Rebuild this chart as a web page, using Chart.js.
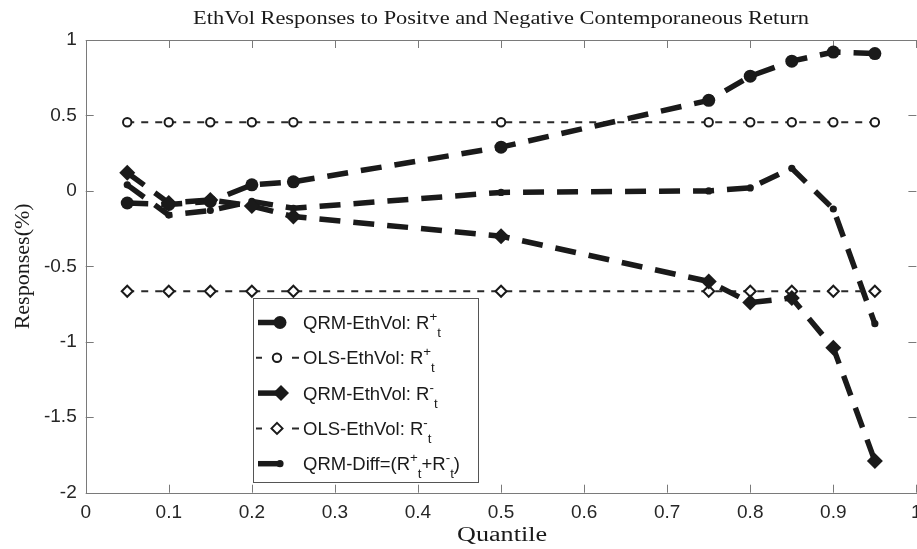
<!DOCTYPE html>
<html>
<head>
<meta charset="utf-8">
<script src="https://cdn.jsdelivr.net/npm/chart.js@4"></script>
<style>
html,body{margin:0;padding:0;background:#fff;}
#c{display:block;}
</style>
</head>
<body>
<canvas id="c" width="917" height="549"></canvas>
<script>
// ---- data ----
const quantiles = [0.05, 0.1, 0.15, 0.2, 0.25, 0.5, 0.75, 0.8, 0.85, 0.9, 0.95];
const qrmPos  = [-0.08, -0.09, -0.07, 0.04, 0.06, 0.29, 0.60, 0.76, 0.86, 0.92, 0.91];
const olsPos  = [0.455, 0.455, 0.455, 0.455, 0.455, 0.455, 0.455, 0.455, 0.455, 0.455, 0.455];
const qrmNeg  = [0.12, -0.08, -0.06, -0.10, -0.17, -0.30, -0.60, -0.74, -0.71, -1.04, -1.79];
const olsNeg  = [-0.665, -0.665, -0.665, -0.665, -0.665, -0.665, -0.665, -0.665, -0.665, -0.665, -0.665];
const qrmDiff = [0.04, -0.16, -0.13, -0.07, -0.115, -0.01, 0.00, 0.02, 0.15, -0.12, -0.88];
const xTickLabels = ['0', '0.1', '0.2', '0.3', '0.4', '0.5', '0.6', '0.7', '0.8', '0.9', '1'];
const yTickLabels = ['-2', '-1.5', '-1', '-0.5', '0', '0.5', '1'];
const titleText = 'EthVol Responses to Positve and Negative Contemporaneous Return';
const xTitle = 'Quantile';
const yTitle = 'Responses(%)';

const xTickVals = xTickLabels.map(Number);
const yTickVals = yTickLabels.map(Number);
const pts = arr => quantiles.map((q, i) => ({x: q, y: arr[i]}));

const INK = '#1a1a1a';
const AXIS = '#7a7a7a';
const TICKC = '#262626';
const SANS = '"Liberation Sans", Arial, sans-serif';
const SERIF = '"Liberation Serif", "DejaVu Serif", serif';

const thick = {borderColor: INK, borderWidth: 5.5, borderDash: [21, 13], tension: 0, fill: false};
const thin = {borderColor: '#2a2a2a', borderWidth: 2, borderDash: [7, 7], tension: 0, fill: false};

const datasets = [
  Object.assign({label: 'QRM-EthVol: R+t', data: pts(qrmPos), pointStyle: 'circle', pointRadius: 6.5,
    pointBackgroundColor: INK, pointBorderColor: INK, pointBorderWidth: 0}, thick),
  Object.assign({label: 'OLS-EthVol: R+t', data: pts(olsPos), pointStyle: 'circle', pointRadius: 4.2,
    pointBackgroundColor: '#fff', pointBorderColor: INK, pointBorderWidth: 2}, thin),
  Object.assign({label: 'QRM-EthVol: R-t', data: pts(qrmNeg), pointStyle: 'rectRot', pointRadius: 8,
    pointBackgroundColor: INK, pointBorderColor: INK, pointBorderWidth: 0}, thick),
  Object.assign({label: 'OLS-EthVol: R-t', data: pts(olsNeg), pointStyle: 'rectRot', pointRadius: 5.5,
    pointBackgroundColor: '#fff', pointBorderColor: INK, pointBorderWidth: 2}, thin),
  Object.assign({label: 'QRM-Diff', data: pts(qrmDiff), pointStyle: 'circle', pointRadius: 3.6,
    pointBackgroundColor: INK, pointBorderColor: INK, pointBorderWidth: 0}, thick)
];

// draw text at a given font size, stretched horizontally to a target width
function stretchedText(ctx, text, size, target, x, y, rotate) {
  ctx.save();
  ctx.font = size + 'px ' + SERIF;
  const w = ctx.measureText(text).width;
  ctx.translate(x, y);
  if (rotate) ctx.rotate(-Math.PI / 2);
  ctx.scale(target / w, 1);
  ctx.textAlign = 'center';
  ctx.textBaseline = 'alphabetic';
  ctx.fillText(text, 0, 0);
  ctx.restore();
}

function richText(ctx, x, base, segs, size) {
  ctx.textAlign = 'left';
  ctx.textBaseline = 'alphabetic';
  for (const s of segs) {
    let fs = size, dy = 0;
    if (s.sup) { fs = size * 0.72; dy = -8; }
    if (s.sub) { fs = size * 0.72; dy = 8; }
    ctx.font = fs + 'px ' + SANS;
    ctx.fillText(s.t, x, base + dy);
    x += ctx.measureText(s.t).width;
  }
}

const framePlugin = {
  id: 'frame',
  beforeDatasetsDraw(chart) {
    const {ctx, chartArea: a, scales: {x, y}} = chart;
    ctx.save();
    ctx.strokeStyle = AXIS;
    ctx.lineWidth = 1;
    ctx.strokeRect(Math.round(a.left) + 0.5, Math.round(a.top) + 0.5,
      Math.round(a.right - a.left), Math.round(a.bottom - a.top));
    ctx.beginPath();
    const tl = 8;
    for (const v of xTickVals) {
      const px = Math.round(x.getPixelForValue(v)) + 0.5;
      ctx.moveTo(px, a.bottom); ctx.lineTo(px, a.bottom - tl);
      ctx.moveTo(px, a.top); ctx.lineTo(px, a.top + tl);
    }
    for (const v of yTickVals) {
      const py = Math.round(y.getPixelForValue(v)) + 0.5;
      ctx.moveTo(a.left, py); ctx.lineTo(a.left + tl, py);
      ctx.moveTo(a.right, py); ctx.lineTo(a.right - tl, py);
    }
    ctx.stroke();
    ctx.restore();
  },
  afterDraw(chart) {
    const {ctx, chartArea: a} = chart;
    const cx = (a.left + a.right) / 2;
    ctx.save();
    ctx.fillStyle = INK;
    stretchedText(ctx, titleText, 19.5, 616, cx, 24, false);
    stretchedText(ctx, xTitle, 20, 90, cx + 1, 541, false);
    stretchedText(ctx, yTitle, 20, 126, 29, (a.top + a.bottom) / 2, true);

    // legend
    const L = 253, T = 298, R = 478, B = 482;
    ctx.fillStyle = '#fff';
    ctx.fillRect(L, T, R - L, B - T);
    ctx.strokeStyle = '#555';
    ctx.lineWidth = 1;
    ctx.strokeRect(L + 0.5, T + 0.5, R - L, B - T);
    const rows = [
      {kind: 'thick', marker: 'circle', segs: [{t: 'QRM-EthVol: R'}, {t: '+', sup: true}, {t: 't', sub: true}]},
      {kind: 'thin', marker: 'ocircle', segs: [{t: 'OLS-EthVol: R'}, {t: '+', sup: true}, {t: 't', sub: true}]},
      {kind: 'thick', marker: 'diamond', segs: [{t: 'QRM-EthVol: R'}, {t: '-', sup: true}, {t: 't', sub: true}]},
      {kind: 'thin', marker: 'odiamond', segs: [{t: 'OLS-EthVol: R'}, {t: '-', sup: true}, {t: 't', sub: true}]},
      {kind: 'thick', marker: 'dot', segs: [{t: 'QRM-Diff=(R'}, {t: '+', sup: true}, {t: 't', sub: true}, {t: '+R'}, {t: '-', sup: true}, {t: 't', sub: true}, {t: ')'}]}
    ];
    rows.forEach((r, i) => {
      const base = 329 + i * 35.3;
      const my = base - 6.5;
      ctx.strokeStyle = INK;
      ctx.fillStyle = INK;
      if (r.kind === 'thick') {
        ctx.lineWidth = 5.5;
        ctx.beginPath(); ctx.moveTo(258, my); ctx.lineTo(280, my); ctx.stroke();
      } else {
        ctx.lineWidth = 2;
        ctx.strokeStyle = '#2a2a2a';
        ctx.beginPath();
        ctx.moveTo(256, my); ctx.lineTo(262, my);
        ctx.moveTo(292, my); ctx.lineTo(299, my);
        ctx.stroke();
        ctx.strokeStyle = INK;
      }
      ctx.beginPath();
      if (r.marker === 'circle') { ctx.arc(280, my, 6.5, 0, 2 * Math.PI); ctx.fill(); }
      else if (r.marker === 'dot') { ctx.arc(280, my, 3.6, 0, 2 * Math.PI); ctx.fill(); }
      else if (r.marker === 'diamond') {
        const s = 8; const mx = 281;
        ctx.moveTo(mx, my - s); ctx.lineTo(mx + s, my); ctx.lineTo(mx, my + s); ctx.lineTo(mx - s, my); ctx.closePath(); ctx.fill();
      } else if (r.marker === 'ocircle') {
        ctx.lineWidth = 2; ctx.fillStyle = '#fff';
        ctx.arc(277, my, 4.2, 0, 2 * Math.PI); ctx.fill(); ctx.stroke();
      } else if (r.marker === 'odiamond') {
        const s = 5.5; const mx = 277;
        ctx.lineWidth = 2; ctx.fillStyle = '#fff';
        ctx.moveTo(mx, my - s); ctx.lineTo(mx + s, my); ctx.lineTo(mx, my + s); ctx.lineTo(mx - s, my); ctx.closePath(); ctx.fill(); ctx.stroke();
      }
      ctx.fillStyle = INK;
      richText(ctx, 303, base, r.segs, 18.5);
    });
    ctx.restore();
  }
};

new Chart(document.getElementById('c'), {
  type: 'line',
  data: {datasets},
  plugins: [framePlugin],
  options: {
    responsive: false,
    animation: false,
    devicePixelRatio: 1,
    layout: {autoPadding: false, padding: {top: 40, left: 0, right: 0.6, bottom: 0}},
    plugins: {legend: {display: false}, title: {display: false}, tooltip: {enabled: false}},
    scales: {
      x: {
        type: 'linear', min: 0, max: 1,
        afterFit: s => { s.height = 56.3; s.paddingLeft = 0; s.paddingRight = 0; },
        afterBuildTicks: s => { s.ticks = xTickVals.map(v => ({value: v})); },
        grid: {display: false, drawTicks: false},
        border: {display: false},
        ticks: {
          autoSkip: false, maxRotation: 0, padding: 9, color: TICKC,
          font: {family: SANS, size: 19},
          callback: (v, i) => xTickLabels[i]
        }
      },
      y: {
        type: 'linear', min: -2, max: 1,
        afterFit: s => { s.width = 85.7; s.paddingTop = 0; s.paddingBottom = 0; },
        afterBuildTicks: s => { s.ticks = yTickVals.map(v => ({value: v})); },
        grid: {display: false, drawTicks: false},
        border: {display: false},
        ticks: {
          autoSkip: false, padding: 9, color: TICKC,
          font: {family: SANS, size: 19},
          callback: (v, i) => yTickLabels[i]
        }
      }
    }
  }
});
</script>
</body>
</html>
